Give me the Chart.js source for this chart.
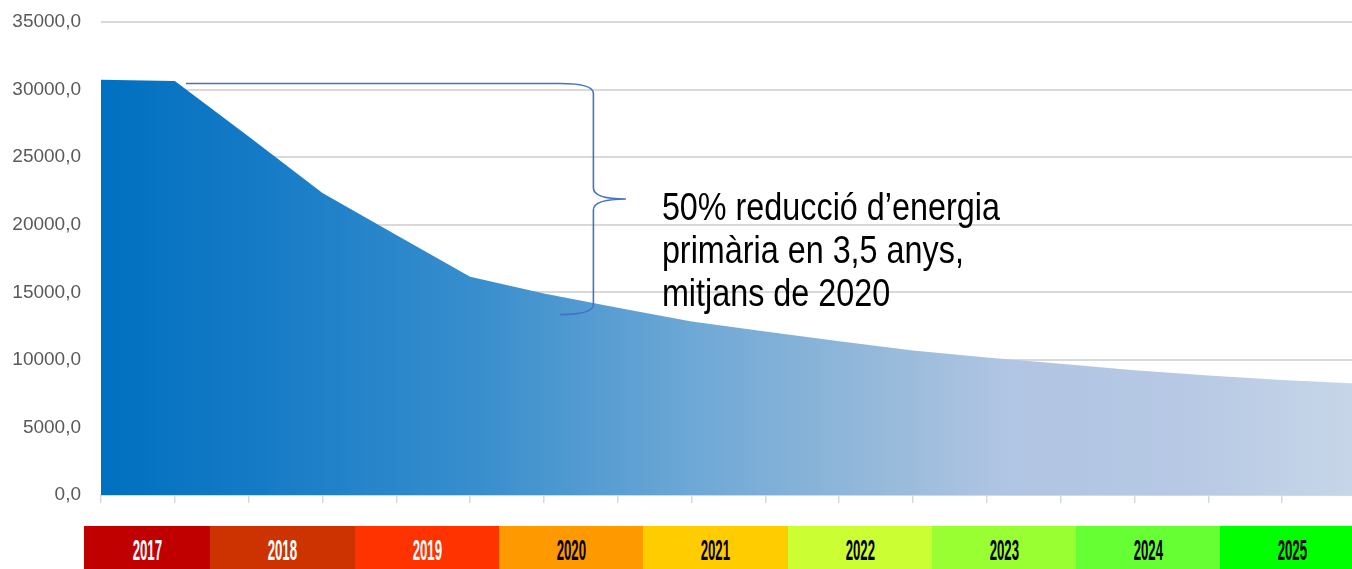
<!DOCTYPE html>
<html>
<head>
<meta charset="utf-8">
<script src="https://cdn.jsdelivr.net/npm/chart.js@4.4.1/dist/chart.umd.min.js"></script>
<style>
  html, body { margin: 0; padding: 0; background: #fff; overflow: hidden; }
  #wrap { position: relative; width: 1352px; height: 569px; overflow: hidden; }
  #box { position: absolute; left: 0; top: 0; width: 1358px; height: 569px; }
  #years { position: absolute; left: 84px; top: 526px; height: 43px; display: flex; }
  #years div { height: 43px; display: flex; align-items: center; justify-content: center; overflow: hidden; }
  #years span { display: inline-block; font: bold 30px "Liberation Sans", sans-serif; transform: scaleX(0.44); margin-top: 4px; }
</style>
</head>
<body>
<div id="wrap">
  <div id="box"><canvas id="chart"></canvas></div>
  <div id="years"></div>
</div>
<script>
// semesters 2017..2025, primary energy
const periods = ['2017-1', '2017-2', '2018-1', '2018-2', '2019-1', '2019-2', '2020-1', '2020-2',
  '2021-1', '2021-2', '2022-1', '2022-2', '2023-1', '2023-2', '2024-1', '2024-2', '2025-1', '2025-2'];
const energy = [30730, 30630, 26530, 22350, 19240, 16150, 14910, 13860, 12830,
  12090, 11380, 10690, 10170, 9720, 9240, 8840, 8510, 8250];
const yTicks = [0, 5000, 10000, 15000, 20000, 25000, 30000, 35000];

const years = ['2017', '2018', '2019', '2020', '2021', '2022', '2023', '2024', '2025'];
const yearColors = ['#C00000', '#CC3300', '#FF3300', '#FF9900', '#FFCC00', '#CCFF33', '#99FF33', '#66FF33', '#00FF00'];
const yearText = ['#fff', '#fff', '#fff', '#000', '#000', '#000', '#000', '#000', '#000'];
const yearWidths = [126, 145, 144, 144, 145, 144, 144, 144, 144];

const noteLines = ['50% reducció d\u2019energia', 'primària en 3,5 anys,', 'mitjans de 2020'];
const braceTop = 30450, braceBottom = 13350;

// year strip under the chart
const strip = document.getElementById('years');
years.forEach((y, i) => {
  const d = document.createElement('div');
  d.style.width = yearWidths[i] + 'px';
  d.style.background = yearColors[i];
  d.innerHTML = '<span style="color:' + yearText[i] + '">' + y + '</span>';
  strip.appendChild(d);
});

function areaFill(context) {
  const { ctx, chartArea } = context.chart;
  if (!chartArea) return '#0070C0';
  const g = ctx.createLinearGradient(chartArea.left, 0, chartArea.right, 0);
  g.addColorStop(0, 'rgb(0,112,192)');
  g.addColorStop(0.12, 'rgb(20,122,198)');
  g.addColorStop(0.3, 'rgb(56,142,205)');
  g.addColorStop(0.48, 'rgb(112,169,214)');
  g.addColorStop(0.62, 'rgb(150,185,218)');
  g.addColorStop(0.72, 'rgb(176,197,227)');
  g.addColorStop(0.86, 'rgb(182,200,228)');
  g.addColorStop(1, 'rgb(199,214,232)');
  return g;
}

// brace + note text
const bracePlugin = {
  id: 'brace',
  afterDatasetsDraw(chart) {
    const { ctx, scales: { x, y } } = chart;
    const step = x.getPixelForValue(1) - x.getPixelForValue(0);
    const xAt = v => x.getPixelForValue(0) + v * step;
    const top = y.getPixelForValue(braceTop);
    const bot = y.getPixelForValue(braceBottom);
    const mid = (top + bot) / 2;
    const xl = xAt(6.22), xv = xAt(6.67), xt = xAt(7.11);

    ctx.save();
    ctx.strokeStyle = '#4472C4';
    ctx.lineWidth = 1.6;
    ctx.beginPath();
    ctx.moveTo(xAt(1.15), top);
    ctx.lineTo(xl, top);
    ctx.quadraticCurveTo(xv, top, xv, top + 10);
    ctx.lineTo(xv, mid - 11);
    ctx.quadraticCurveTo(xv, mid, xt, mid);
    ctx.quadraticCurveTo(xv, mid, xv, mid + 11);
    ctx.lineTo(xv, bot - 10);
    ctx.quadraticCurveTo(xv, bot, xl, bot);
    ctx.stroke();

    ctx.fillStyle = '#000';
    ctx.font = '39px "Liberation Sans", sans-serif';
    ctx.textBaseline = 'alphabetic';
    const sx = 338 / ctx.measureText(noteLines[0]).width;
    const tx = xt + 36;
    noteLines.forEach((line, i) => {
      ctx.save();
      ctx.translate(tx, 220 + i * 43);
      ctx.scale(sx, 1);
      ctx.fillText(line, 0, 0);
      ctx.restore();
    });
    ctx.restore();
  }
};

new Chart(document.getElementById('chart'), {
  type: 'line',
  data: {
    labels: periods,
    datasets: [{
      data: energy,
      fill: 'origin',
      backgroundColor: areaFill,
      borderWidth: 0,
      pointRadius: 0,
      tension: 0
    }]
  },
  options: {
    responsive: true,
    maintainAspectRatio: false,
    animation: false,
    layout: { padding: { top: 22, bottom: 66, right: 2, left: 0 } },
    plugins: { legend: { display: false }, tooltip: { enabled: false } },
    scales: {
      x: {
        offset: false,
        grid: { drawOnChartArea: false, color: '#d9d9d9', lineWidth: 1.5, tickLength: 8 },
        border: { color: '#d9d9d9', width: 2 },
        ticks: { display: false }
      },
      y: {
        min: 0,
        max: 35000,
        afterFit: s => { s.width = 101; s.paddingTop = 0; s.paddingBottom = 0; },
        afterBuildTicks: s => { s.ticks = yTicks.map(v => ({ value: v })); },
        grid: { color: '#d9d9d9', lineWidth: 2, drawTicks: false },
        border: { display: false },
        ticks: {
          padding: 20,
          color: '#595959',
          font: { family: '"Liberation Sans Narrow", "Liberation Sans", sans-serif', size: 19 },
          callback: v => v.toFixed(1).replace('.', ',')
        }
      }
    }
  },
  plugins: [bracePlugin]
});
</script>
</body>
</html>
